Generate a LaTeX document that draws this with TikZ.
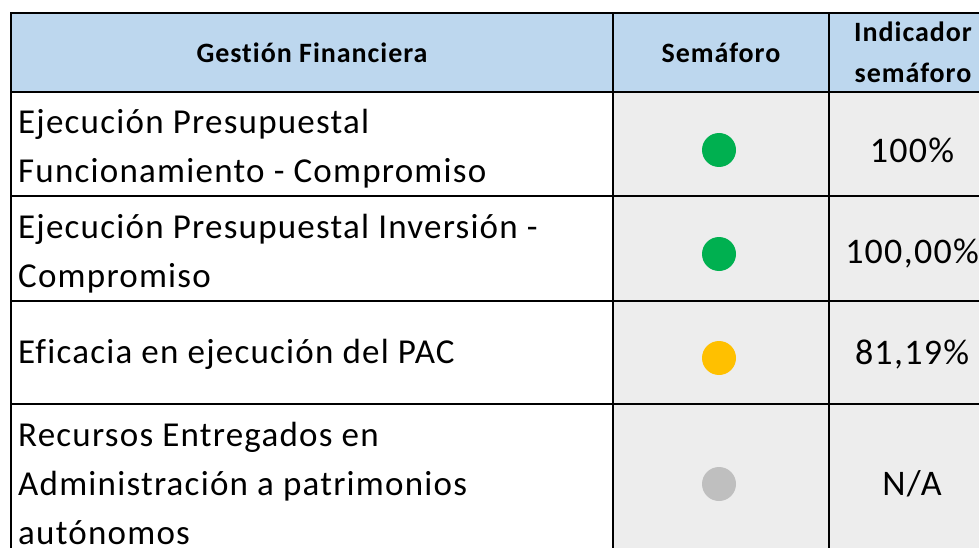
\documentclass[tikz,border=0pt]{standalone}
\usepackage{fontspec}
\setmainfont{Carlito}[Ligatures=NoCommon,LetterSpace=3.5]
\definecolor{hdrblue}{HTML}{BDD7EE}
\definecolor{cellgray}{HTML}{EDEDED}
\definecolor{lampgreen}{HTML}{00B050}
\definecolor{lampyellow}{HTML}{FFC000}
\definecolor{lampgray}{HTML}{BFBFBF}

\begin{document}
\begin{tikzpicture}
      [%%%%%%%%%%%%%%%%%%%%%%%%%%%%%%
      x=1pt,y=-1pt,
      cell/.style={rectangle,draw=black,line width=2pt,anchor=north west,inner sep=0pt},
      hdr/.style={cell,fill=hdrblue,align=center,font=\fontsize{28}{41}\selectfont\bfseries},
      itemcell/.style={cell,fill=white,minimum width=602pt},
      itemtext/.style={anchor=west,inner sep=0pt,align=left,font=\fontsize{35}{49}\selectfont},
      lampcell/.style={cell,fill=cellgray,minimum width=216pt},
      valcell/.style={cell,fill=cellgray,minimum width=168pt},
      val/.style={font=\fontsize{36}{49}\selectfont},
      lamp/.style={circle,minimum size=34pt,inner sep=0pt},
      ]%%%%%%%%%%%%%%%%%%%%%%%%%%%%%%
      \clip (0,0) rectangle (979,548);
      \fill[white] (0,0) rectangle (979,548);

      % header
      \node[hdr,minimum width=602pt,minimum height=79pt] (gestion) at (10,12) {Gestión Financiera};
      \node[hdr,minimum width=216pt,minimum height=79pt] (semaforo) at (612,12) {Semáforo};
      \node[hdr,minimum width=168pt,minimum height=79pt] (indicador) at (828,12) {Indicador\\semáforo};

      % rows
      \node[itemcell,minimum height=104pt] (funcionamiento) at (10,91) {};
      \node[itemcell,minimum height=105pt] (inversion) at (10,195) {};
      \node[itemcell,minimum height=103pt] (pac) at (10,300) {};
      \node[itemcell,minimum height=158pt] (recursos) at (10,403) {};

      \node[itemtext] (t1) at ([xshift=8pt,yshift=-5pt]funcionamiento.west) {Ejecución Presupuestal\\Funcionamiento - Compromiso};
      \node[itemtext] (t2) at ([xshift=8pt,yshift=-5pt]inversion.west) {Ejecución Presupuestal Inversión -\\Compromiso};
      \node[itemtext] (t3) at ([xshift=8pt,yshift=-2pt]pac.west) {Eficacia en ejecución del PAC};
      \node[itemtext] (t4) at ([xshift=8pt]recursos.west) {Recursos Entregados en\\Administración a patrimonios\\autónomos};

      \node[lampcell,minimum height=104pt] (l1) at (612,91) {};
      \node[lampcell,minimum height=105pt] (l2) at (612,195) {};
      \node[lampcell,minimum height=103pt] (l3) at (612,300) {};
      \node[lampcell,minimum height=158pt] (l4) at (612,403) {};

      \node[valcell,minimum height=104pt] (v1) at (828,91) {};
      \node[valcell,minimum height=105pt] (v2) at (828,195) {};
      \node[valcell,minimum height=103pt] (v3) at (828,300) {};
      \node[valcell,minimum height=158pt] (v4) at (828,403) {};

      % semaforos
      \node[lamp,fill=lampgreen] (s1) at (719,150) {};
      \node[lamp,fill=lampgreen] (s2) at (719,254) {};
      \node[lamp,fill=lampyellow] (s3) at (719,358) {};
      \node[lamp,fill=lampgray] (s4) at (719,484) {};

      % indicadores
      \node[val] (p1) at (912,150) {100\%};
      \node[val] (p2) at (912,254) {100,00\%};
      \node[val] (p3) at (912,355) {81,19\%};
      \node[val] (p4) at (912,484) {N/A};
    \end{tikzpicture}
\end{document}
